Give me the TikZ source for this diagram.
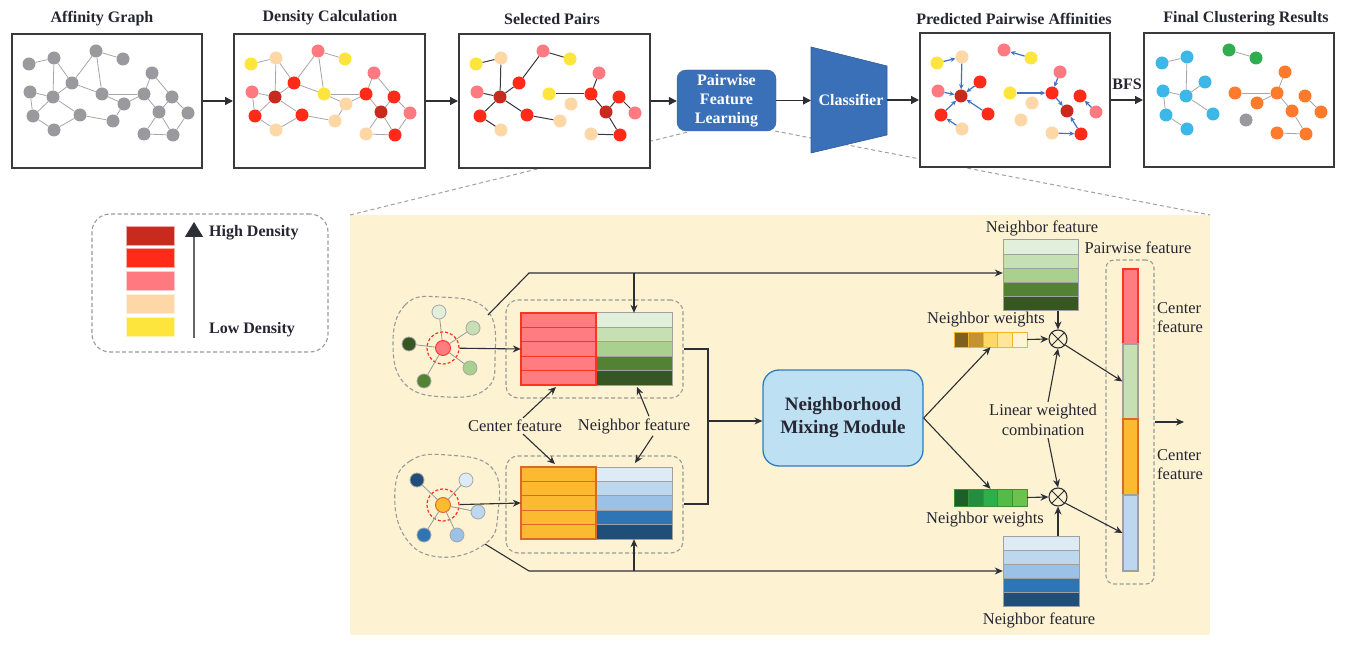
\documentclass[tikz,border=0pt]{standalone}
\usepackage{fontspec}
\setmainfont{Liberation Serif}
\usetikzlibrary{calc,arrows.meta}
\definecolor{txt}{HTML}{262633}
\definecolor{pnl}{HTML}{3A3A3E}
\definecolor{arr}{HTML}{2E2F36}
\definecolor{gline}{HTML}{A6A6A6}
\definecolor{dk}{HTML}{3A3A3A}
\definecolor{pblue}{HTML}{3C72C4}
\definecolor{boxblue}{HTML}{3A70B8}
\definecolor{boxblueb}{HTML}{2C5E9E}
\definecolor{zl}{HTML}{A0A0A0}
\definecolor{bgY}{HTML}{FDF2D2}
\definecolor{cGr}{HTML}{9A9A9E}
\definecolor{cY}{HTML}{FDE53D}
\definecolor{cP}{HTML}{FDD7A6}
\definecolor{cK}{HTML}{FF7A80}
\definecolor{cD}{HTML}{C92A1E}
\definecolor{cR}{HTML}{FF2A17}
\definecolor{cB}{HTML}{3DB6E8}
\definecolor{cG}{HTML}{2EAE4E}
\definecolor{cO}{HTML}{FF7B2C}
\definecolor{gA}{HTML}{E2EFDA}
\definecolor{gB}{HTML}{C6E0B4}
\definecolor{gC}{HTML}{A9D08E}
\definecolor{gD}{HTML}{548235}
\definecolor{gE}{HTML}{375623}
\definecolor{bA}{HTML}{DDEBF7}
\definecolor{bB}{HTML}{BDD7EE}
\definecolor{bC}{HTML}{9BC2E6}
\definecolor{bD}{HTML}{2E75B6}
\definecolor{bE}{HTML}{1F4E79}
\definecolor{pinkc}{HTML}{FF7C80}
\definecolor{redb}{HTML}{FF3322}
\definecolor{orc}{HTML}{FBBA30}
\definecolor{orb}{HTML}{D9682A}
\definecolor{cellb}{HTML}{A0A0A0}
\definecolor{nmmf}{HTML}{BDE0F2}
\definecolor{nmmb}{HTML}{2E7CC0}
\definecolor{wA}{HTML}{7F5F1F}
\definecolor{wB}{HTML}{C39232}
\definecolor{wC}{HTML}{FFD966}
\definecolor{wD}{HTML}{FFE699}
\definecolor{wE}{HTML}{FFF4D6}
\definecolor{wbord}{HTML}{F5B325}
\definecolor{vA}{HTML}{1E5E2B}
\definecolor{vB}{HTML}{248E40}
\definecolor{vC}{HTML}{2DB04B}
\definecolor{vD}{HTML}{55BB48}
\definecolor{vE}{HTML}{6CC24C}
\definecolor{vbord}{HTML}{3F8F33}
\definecolor{lgline}{HTML}{666666}
\begin{document}
\begin{tikzpicture}[x=1pt,y=-1pt,
  font=\fontsize{16.5}{19}\selectfont, text=txt,
  ttl/.style={font=\fontsize{16}{18}\selectfont\bfseries},
  panel/.style={draw=pnl, line width=2pt, fill=white, minimum width=190pt, minimum height=134pt, inner sep=0pt},
  flow/.style={draw=arr, line width=1.3pt, -{Triangle[length=8pt,width=8pt]}},
  arrow/.style={draw=arr, line width=1.1pt, -{Stealth[length=8pt,width=7pt]}},
  gn/.style={circle, minimum size=13pt, inner sep=0pt, draw=none},
  ge/.style={draw=gline, line width=0.8pt},
  se/.style={draw=dk, line width=1pt},
  pe/.style={draw=pblue, line width=1.2pt, -{Stealth[length=5pt,width=4.5pt]}},
  zoomline/.style={draw=zl, dash pattern=on 4pt off 3pt, line width=1pt},
  blob/.style={draw=gray!80, dash pattern=on 4pt off 2.5pt, line width=1.1pt},
  dbox/.style={draw=gray!80, dash pattern=on 4pt off 2.5pt, line width=1.1pt, rounded corners=12pt},
  nb/.style={circle, minimum size=14pt, inner sep=0pt, draw=gray!70, line width=0.8pt},
  cell/.style={line width=1pt},
  lbl/.style={inner sep=2pt, align=center},
]
\useasboundingbox (0,0) rectangle (1345,647);

% ---------- zoom lines and background ----------
\fill[bgY] (350,215) rectangle (1210,635);
\coordinate (zl1) at (350,215);
\coordinate (zl2) at (688,132);
\coordinate (zl3) at (775,131);
\coordinate (zl4) at (1210,215);
\draw[zoomline] (zl1) -- (zl2);
\draw[zoomline] (zl3) -- (zl4);

% ---------- top row ----------
\node[ttl] (t1) at (102,19) {Affinity Graph};
\node[ttl] (t2) at (330,18) {Density Calculation};
\node[ttl] (t3) at (552,19) {Selected Pairs};
\node[ttl] (t4) at (1014,19) {Predicted Pairwise Affinities};
\node[ttl] (t5) at (1246,19) {Final Clustering Results};

\node[panel] (P1) at (107,101) {};
\node[panel, minimum width=191pt] (P2) at (329.5,101) {};
\node[panel, minimum width=191pt] (P3) at (554.5,101) {};
\node[panel] (P4) at (1015,100) {};
\node[panel] (P5) at (1239,100) {};

\node[draw=boxblueb, fill=boxblue, rounded corners=9pt, minimum width=99pt, minimum height=61pt,
  text=white, font=\fontsize{16}{19}\selectfont\bfseries, align=center, inner sep=0pt] (pfl) at (726.5,100.5) {Pairwise\\Feature\\Learning};

\fill[boxblue] (811,47) -- (887,66) -- (887,135) -- (811,153) -- cycle;
\draw[boxblueb, line width=0.6pt] (811,47) -- (887,66) -- (887,135) -- (811,153) -- cycle;
\node[text=white, font=\fontsize{16}{19}\selectfont\bfseries] (cls) at (851,100) {Classifier};
\coordinate (clsL) at (811,100.5);
\coordinate (clsR) at (887,100);

\draw[flow] (P1.east |- 0,101) -- (P2.west |- 0,101);
\draw[flow] (P2.east |- 0,101) -- (P3.west |- 0,101);
\draw[flow] (P3.east |- 0,101) -- (pfl.west |- 0,101);
\draw[flow] (pfl.east) -- (clsL);
\draw[flow] (clsR) -- (P4.west);
\draw[flow] (P4.east) -- (P5.west);
\node[ttl] (bfs) at (1127,84) {BFS};

% base graph layout
\foreach \i/\x/\y in {1/29/64,2/54/58,3/96/51,4/123/59,5/152/73,6/30/92,7/53/97,8/72/83,9/102/94,10/124/104,
  11/144/94,12/172/97,13/159/112,14/188/113,15/33/116,16/80/115,17/113/121,18/54/130,19/144/134,20/173/135}
  {\coordinate (g\i) at (\x,\y);}

% panel 1
\foreach \i in {1,...,20} {\node[gn, fill=cGr] (a\i) at (g\i) {};}
\foreach \a/\b in {1/2,2/7,2/8,7/8,8/3,3/4,3/9,8/9,6/7,6/15,7/15,7/16,15/18,18/16,16/17,17/10,9/10,10/11,9/11,11/5,5/12,11/13,12/13,12/14,13/19,13/20,19/20,20/14}
  {\draw[ge] (a\a) -- (a\b);}
% panel 2
\foreach \c [count=\i] in {cY,cP,cK,cY,cK,cK,cD,cR,cY,cP,cR,cR,cD,cK,cR,cR,cP,cP,cP,cR}
  {\node[gn, fill=\c] (b\i) at ($(g\i)+(222,0)$) {};}
\foreach \a/\b in {1/2,2/7,2/8,7/8,8/3,3/4,3/9,8/9,6/7,6/15,7/15,7/16,15/18,18/16,16/17,17/10,9/10,10/11,9/11,11/5,5/12,11/13,12/13,12/14,13/19,13/20,19/20,20/14}
  {\draw[ge] (b\a) -- (b\b);}
% panel 3
\foreach \c [count=\i] in {cY,cP,cK,cY,cK,cK,cD,cR,cY,cP,cR,cR,cD,cK,cR,cR,cP,cP,cP,cR}
  {\node[gn, fill=\c] (c\i) at ($(g\i)+(447,0)$) {};}
\foreach \a/\b in {1/2,2/7,3/4,3/8,8/7,6/7,7/15,7/16,16/17,15/18,9/11,11/5,11/13,12/13,12/14,13/20,19/20}
  {\draw[se] (c\a) -- (c\b);}
% panel 4
\foreach \c [count=\i] in {cY,cP,cK,cY,cK,cK,cD,cR,cY,cP,cR,cR,cD,cK,cR,cR,cP,cP,cP,cR}
  {\node[gn, fill=\c] (d\i) at ($(g\i)+(908,-1)$) {};}
\foreach \a/\b in {1/2,2/7,4/3,6/7,8/7,15/7,16/7,18/15,9/11,5/11,11/13,20/13,19/20,14/12}
  {\draw[pe] (d\a) -- (d\b);}
% panel 5
\foreach \c [count=\i] in {cB,cB,cG,cG,cO,cB,cB,cB,cO,cO,cO,cO,cO,cO,cB,cB,cGr,cB,cO,cO}
  {\node[gn, fill=\c] (e\i) at ($(g\i)+(1133,-1)$) {};}
\foreach \a/\b in {1/2,2/7,6/7,8/7,7/16,6/15,15/18,3/4,5/11,9/11,10/11,11/13,12/14,13/20,19/20}
  {\draw[ge] (e\a) -- (e\b);}

% ---------- legend ----------
\node[draw=gray!80, dash pattern=on 4pt off 2.5pt, line width=1.1pt, rounded corners=18pt,
  minimum width=236pt, minimum height=138pt, inner sep=0pt] (leg) at (210,283) {};
\foreach \c [count=\i] in {cD,cR,cK,cP,cY}
  {\node[fill=\c, draw=white!60!\c, line width=0.8pt, minimum width=48pt, minimum height=19pt, inner sep=0pt]
   (lg\i) at (150,{235.5+(\i-1)*22.8}) {};}
\coordinate (lgbot) at (194,338);
\coordinate (lgtop) at (194,222);
\draw[draw=lgline, line width=1.5pt, -{Triangle[length=15pt,width=18pt,color=arr]}] (lgbot) -- (lgtop);
\node[anchor=west, font=\fontsize{16}{18}\selectfont\bfseries, inner sep=0pt] (hd) at (209,233) {High Density};
\node[anchor=west, font=\fontsize{16}{18}\selectfont\bfseries, inner sep=0pt] (ld) at (209,330) {Low Density};

% ---------- neighbourhood blobs ----------
\draw[blob] plot[smooth cycle, tension=0.75] coordinates {(393,345) (405,305) (440,297) (487,310) (495,358) (486,389) (447,397) (406,385)};
\draw[blob] plot[smooth cycle, tension=0.75] coordinates {(395,490) (410,461) (447,455) (492,468) (498,513) (485,544) (440,557) (405,537)};

% top blob
\node[nb, fill=gA] (tn1) at (439,312) {};
\node[nb, fill=gB] (tn2) at (473,328) {};
\node[nb, fill=gE] (tn3) at (409,344) {};
\node[nb, fill=gC] (tn4) at (470,368) {};
\node[nb, fill=gD] (tn5) at (424,381) {};
\node[circle, draw=redb, dash pattern=on 3pt off 2pt, line width=1.2pt, minimum size=32pt, inner sep=0pt] (tcr) at (443,348) {};
\node[circle, fill=pinkc, draw=redb, line width=0.9pt, minimum size=15pt, inner sep=0pt] (tc) at (443,348) {};
\foreach \n in {tn1,tn2,tn3,tn4,tn5} {\draw[gray!80, line width=0.8pt] (tc) -- (\n);}
% bottom blob
\node[nb, fill=bE] (bn1) at (417,480) {};
\node[nb, fill=bA] (bn2) at (466,480) {};
\node[nb, fill=bB] (bn3) at (478,512) {};
\node[nb, fill=bD] (bn4) at (424,535) {};
\node[nb, fill=bC] (bn5) at (457,535) {};
\node[circle, draw=redb, dash pattern=on 3pt off 2pt, line width=1.2pt, minimum size=32pt, inner sep=0pt] (bcr) at (443,505) {};
\node[circle, fill=orc, draw=orb, line width=0.9pt, minimum size=15pt, inner sep=0pt] (bc) at (443,505) {};
\foreach \n in {bn1,bn2,bn3,bn4,bn5} {\draw[gray!80, line width=0.8pt] (bc) -- (\n);}

% ---------- left feature tables ----------
\node[dbox, minimum width=177pt, minimum height=98pt, inner sep=0pt] (ftop) at (594.5,349) {};
\node[dbox, minimum width=177pt, minimum height=97pt, inner sep=0pt] (fbot) at (594.5,504.5) {};
\foreach \c [count=\i] in {gA,gB,gC,gD,gE} {
  \draw[cell, fill=pinkc, draw=redb] (521,{313+(\i-1)*14.4}) rectangle ++(75,14.4);
  \draw[cell, fill=\c, draw=cellb] (596,{313+(\i-1)*14.4}) rectangle ++(76,14.4);
}
\foreach \c [count=\i] in {bA,bB,bC,bD,bE} {
  \draw[cell, fill=orc, draw=orb] (521,{467+(\i-1)*14.4}) rectangle ++(75,14.4);
  \draw[cell, fill=\c, draw=cellb] (596,{467+(\i-1)*14.4}) rectangle ++(76,14.4);
}
\draw[redb, line width=1.2pt] (521,313) rectangle (596,385);
\draw[orb, line width=1.2pt] (521,467) rectangle (596,539);
\node[minimum width=151pt, minimum height=72pt, inner sep=0pt] (ttab) at (596.5,349) {};
\node[minimum width=151pt, minimum height=72pt, inner sep=0pt] (btab) at (596.5,503) {};

\draw[arrow] (tcr) -- (ttab.west);
\draw[arrow] (bcr) -- (btab.west);

\node[lbl] (clab) at (515,426) {Center feature};
\node[lbl] (nlab) at (634,426) {Neighbor feature};
\draw[arrow] ($(clab.north)+(8,0)$) -- (556,387);
\draw[arrow] ($(clab.south)+(8,0)$) -- (555,464);
\draw[arrow] ($(nlab.north)+(15,0)$) -- (637,387);
\draw[arrow] ($(nlab.south)+(19,0)$) -- (635,463);

% long lines to right neighbour tables
\coordinate (bt1) at (488,315);
\coordinate (bt2) at (529,273);
\coordinate (jt) at (634,273);
\coordinate (bb1) at (485,544);
\coordinate (bb2) at (529,571);
\coordinate (jb) at (634,571);
\node[minimum width=75pt, minimum height=71pt, inner sep=0pt] (nft) at (1040.5,275.5) {};
\node[minimum width=76pt, minimum height=70pt, inner sep=0pt] (nfb) at (1041,571) {};
\draw[arrow] (bt1) -- (bt2) -- (nft.west |- bt2);
\draw[arrow] (jt) -- (jt |- ttab.north);
\draw[arrow] (bb1) -- (bb2) -- (nfb.west |- bb2);
\draw[arrow] (jb) -- (jb |- btab.south);

% tables to NMM
\node[draw=nmmb, fill=nmmf, line width=1.3pt, rounded corners=16pt, minimum width=160pt, minimum height=96pt,
  inner sep=0pt, align=center, font=\fontsize{19}{23}\selectfont\bfseries] (nmm) at (843,418) {Neighborhood\\Mixing Module};
\coordinate (m1) at (708,349);
\coordinate (m2) at (708,504);
\coordinate (m3) at (708,421);
\draw[arr, line width=1.1pt] (ftop.east |- m1) -- (m1) -- (m2) -- (fbot.east |- m2);
\draw[arrow] (m3) -- (nmm.west |- m3);

% ---------- right side ----------
\foreach \c [count=\i] in {gA,gB,gC,gD,gE}
  {\draw[cell, fill=\c, draw=cellb] (1003,{240+(\i-1)*14.2}) rectangle ++(75,14.2);}
\foreach \c [count=\i] in {bA,bB,bC,bD,bE}
  {\draw[cell, fill=\c, draw=cellb] (1003,{536+(\i-1)*14}) rectangle ++(76,14);}
\node[lbl] (nftl) at (1042,228) {Neighbor feature};
\node[lbl] (nfbl) at (1039,620) {Neighbor feature};

% weights
\node[minimum width=73pt, minimum height=15pt, inner sep=0pt] (wtop) at (990.5,339.5) {};
\node[minimum width=73pt, minimum height=17pt, inner sep=0pt] (wbot) at (990.5,497.5) {};
\foreach \c [count=\i] in {wA,wB,wC,wD,wE}
  {\draw[cell, fill=\c, draw=wbord] ({954+(\i-1)*14.6},332) rectangle ++(14.6,15);}
\foreach \c [count=\i] in {vA,vB,vC,vD,vE}
  {\draw[cell, fill=\c, draw=vbord] ({954+(\i-1)*14.6},489) rectangle ++(14.6,17);}
\node[lbl] (wtl) at (986,320) {Neighbor weights};
\node[lbl] (wbl) at (985,520) {Neighbor weights};

% otimes
\node[circle, draw=arr, line width=1.1pt, minimum size=18pt, inner sep=0pt] (ox1) at (1058,339) {};
\node[circle, draw=arr, line width=1.1pt, minimum size=18pt, inner sep=0pt] (ox2) at (1058,497) {};
\draw[arr, line width=1pt] (ox1.45) -- (ox1.225) (ox1.135) -- (ox1.-45);
\draw[arr, line width=1pt] (ox2.45) -- (ox2.225) (ox2.135) -- (ox2.-45);

\node[lbl, font=\fontsize{16.5}{20}\selectfont] (lwc) at (1043,420) {Linear weighted\\combination};

% pairwise feature
\node[dbox, rounded corners=8pt, minimum width=48pt, minimum height=324pt, inner sep=0pt] (pfbox) at (1130,422) {};
\node[fill=pinkc, draw=redb, line width=1.2pt, minimum width=15pt, minimum height=75pt, inner sep=0pt] (pfk) at (1130.5,306.5) {};
\node[fill=gB, draw=cellb, line width=1.2pt, minimum width=15pt, minimum height=75pt, inner sep=0pt] (pfg) at (1130.5,381.5) {};
\node[fill=orc, draw=orb, line width=1.2pt, minimum width=15pt, minimum height=76pt, inner sep=0pt] (pfo) at (1130.5,457) {};
\node[fill=bB, draw=cellb, line width=1.2pt, minimum width=15pt, minimum height=76pt, inner sep=0pt] (pfb) at (1130.5,533) {};
\node[lbl] (pfl2) at (1138,248) {Pairwise feature};
\node[anchor=west, align=left, inner sep=0pt] (cf1) at (1157,318) {Center\\feature};
\node[anchor=west, align=left, inner sep=0pt] (cf2) at (1157,465) {Center\\feature};
\coordinate (out) at (1184,422);

% connectors
\draw[arrow] (nmm.east) -- (wtop.south);
\draw[arrow] (nmm.east) -- (wbot.north);
\draw[arrow] (wtop.east) -- (ox1.west);
\draw[arrow] (wbot.east) -- (ox2.west);
\draw[arrow] (ox1 |- nft.south) -- (ox1.north);
\draw[arrow] (ox2 |- nfb.north) -- (ox2.south);
\draw[arrow] ($(lwc.north)+(5,0)$) -- (ox1.south);
\draw[arrow] ($(lwc.south)+(5,0)$) -- (ox2.north);
\draw[arrow] (ox1.-40) -- (pfg.west);
\draw[arrow] (ox2.-40) -- (pfb.west);
\draw[arrow] (pfbox.east) -- (out);
\end{tikzpicture}
\end{document}
